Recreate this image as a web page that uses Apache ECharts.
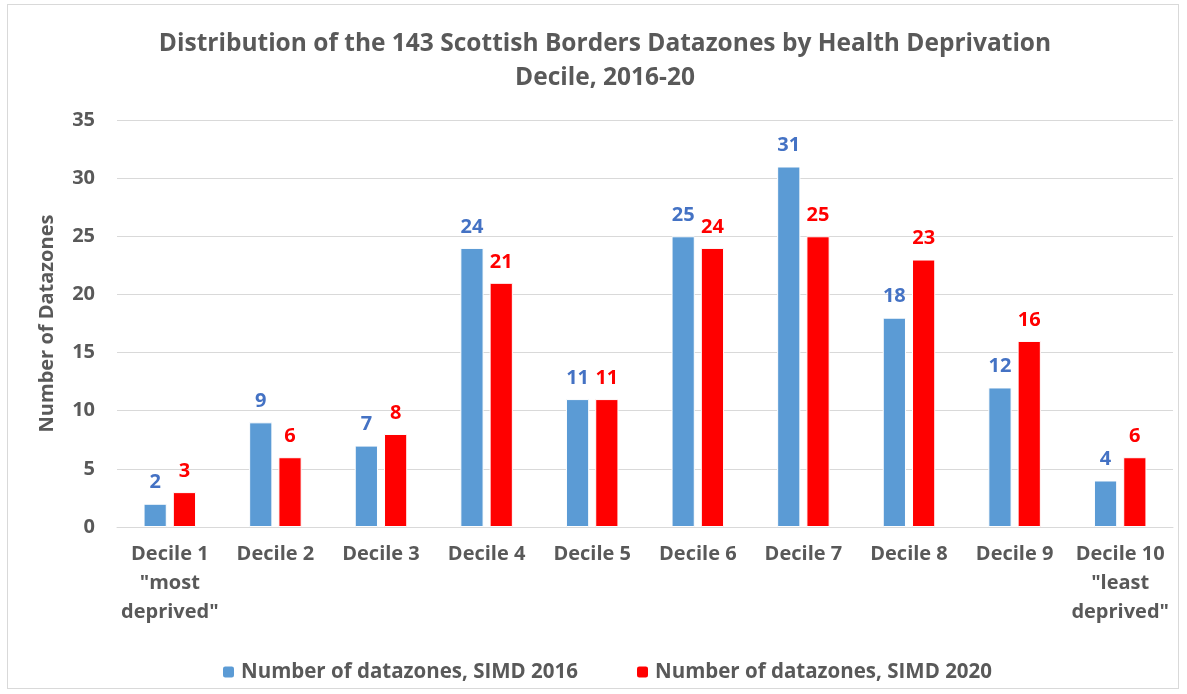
<!DOCTYPE html>
<html>
<head>
<meta charset="utf-8">
<script src="https://cdn.jsdelivr.net/npm/echarts@6/dist/echarts.min.js"></script>
<style>
  html, body { margin: 0; padding: 0; background: #fff; }
  #frame { position: absolute; left: 7px; top: 4px; width: 1172px; height: 685px; border: 1px solid #d9d9d9; box-sizing: border-box; }
  #chart { position: absolute; left: 0; top: 0; width: 1187px; height: 694px; }
</style>
</head>
<body>
<div id="frame"></div>
<div id="chart"></div>
<script>
const categories = ['Decile 1\n"most\ndeprived"', 'Decile 2', 'Decile 3', 'Decile 4', 'Decile 5',
  'Decile 6', 'Decile 7', 'Decile 8', 'Decile 9', 'Decile 10\n"least\ndeprived"'];
const simd2016 = [2, 9, 7, 24, 11, 25, 31, 18, 12, 4];
const simd2020 = [3, 6, 8, 21, 11, 24, 25, 23, 16, 6];
const yTicks = { min: 0, max: 35, interval: 5 };

const FONT = 'Open Sans';
const GREY = '#595959';

const chart = echarts.init(document.getElementById('chart'), null, { renderer: 'canvas' });
chart.setOption({
  animation: false,
  title: {
    text: 'Distribution of the 143 Scottish Borders Datazones by Health Deprivation\nDecile, 2016-20',
    left: 600, top: 22, textAlign: 'center',
    textStyle: { fontFamily: FONT, fontSize: 24.5, fontWeight: 'bold', color: GREY, lineHeight: 34 }
  },
  legend: {
    top: 656, left: 216, itemWidth: 13, itemHeight: 13, itemGap: 57,
    textStyle: { fontFamily: FONT, fontSize: 20.5, fontWeight: 'bold', color: GREY, lineHeight: 22, padding: [0, 0, 0, 1] },
    data: ['Number of datazones, SIMD 2016', 'Number of datazones, SIMD 2020']
  },
  grid: { left: 117, right: 14, top: 120, bottom: 167 },
  xAxis: {
    type: 'category', data: categories,
    axisLine: { lineStyle: { color: '#d9d9d9' } },
    axisTick: { show: false },
    axisLabel: { fontFamily: FONT, fontSize: 20, fontWeight: 'bold', color: GREY, lineHeight: 29, margin: 13, interval: 0 }
  },
  yAxis: {
    type: 'value', min: yTicks.min, max: yTicks.max, interval: yTicks.interval,
    name: 'Number of Datazones', nameLocation: 'middle', nameGap: 60, nameRotate: 90,
    nameTextStyle: { fontFamily: FONT, fontSize: 20, fontWeight: 'bold', color: GREY },
    axisLine: { show: false }, axisTick: { show: false },
    axisLabel: { fontFamily: FONT, fontSize: 20, fontWeight: 'bold', color: GREY, margin: 22 },
    splitLine: { lineStyle: { color: '#d9d9d9' } }
  },
  series: [
    {
      name: 'Number of datazones, SIMD 2016', type: 'bar', data: simd2016,
      barWidth: '22%', barGap: '26%',
      itemStyle: { color: '#5b9bd5', borderColor: '#ffffff', borderWidth: 1 },
      label: { show: true, position: 'top', distance: 11, fontFamily: FONT, fontSize: 20, fontWeight: 'bold', color: '#4472c4' }
    },
    {
      name: 'Number of datazones, SIMD 2020', type: 'bar', data: simd2020,
      barWidth: '22%',
      itemStyle: { color: '#ff0000', borderColor: '#ffffff', borderWidth: 1 },
      label: { show: true, position: 'top', distance: 11, fontFamily: FONT, fontSize: 20, fontWeight: 'bold', color: '#ff0000' }
    }
  ]
});
</script>
</body>
</html>
